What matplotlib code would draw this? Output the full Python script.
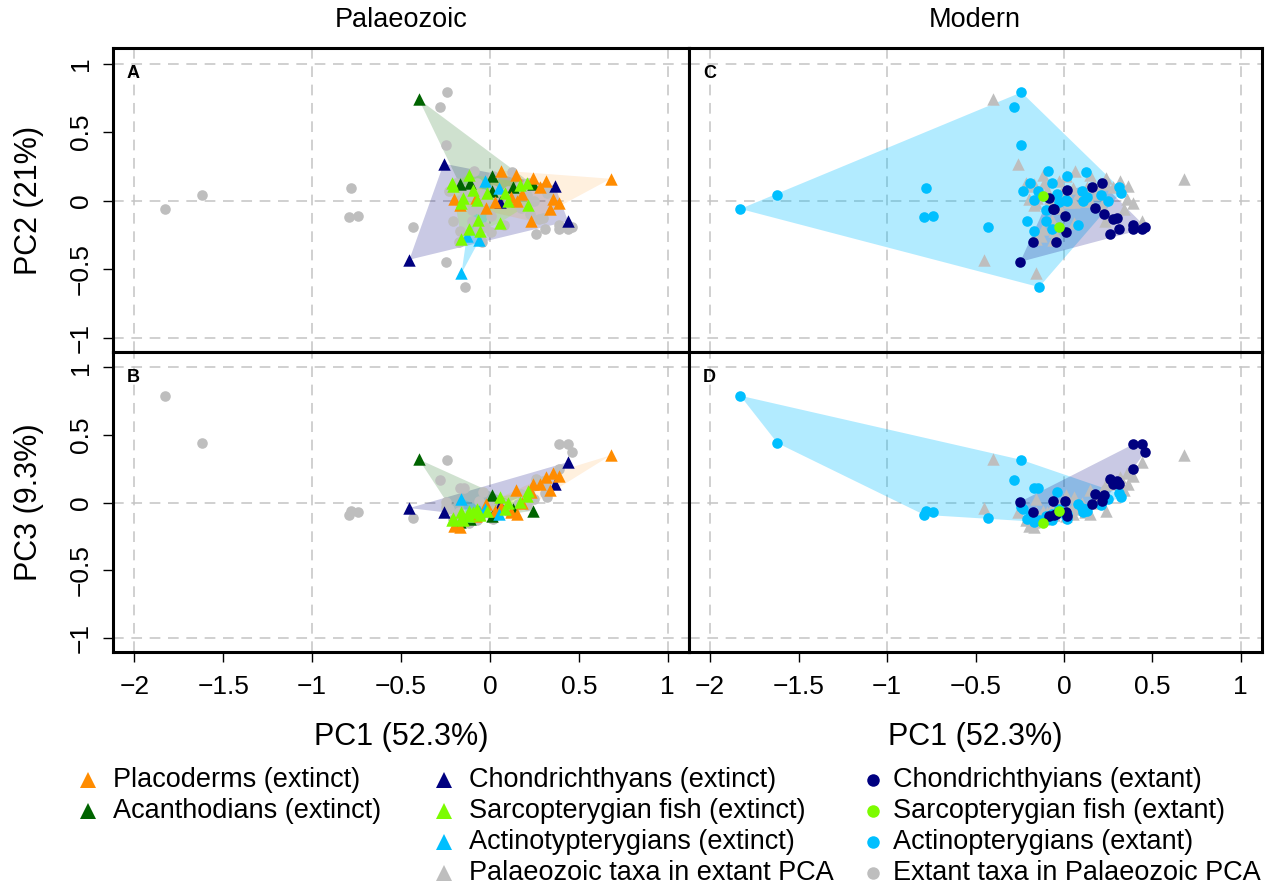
import numpy as np
import matplotlib
matplotlib.use("Agg")
import matplotlib.pyplot as plt
from matplotlib.lines import Line2D

plt.rcParams['font.family'] = ['Liberation Sans', 'DejaVu Sans']

# ---- Palaeozoic (extinct) taxa: PC1, PC2, PC3 ----
placoderms = [(0.68, 0.16, 0.35), (0.06, 0.22, -0.03), (0.145, 0.19, 0.09),
              (0.24, 0.165, 0.14), (0.315, 0.14, 0.19), (0.356, 0.01, 0.22),
              (0.39, -0.02, 0.20), (0.34, -0.06, 0.09), (0.234, -0.15, 0.076),
              (0.15, 0.0, -0.083), (0.18, 0.05, 0.0), (-0.02, -0.05, -0.01),
              (-0.08, 0.02, -0.10), (-0.20, 0.01, -0.17), (0.03, -0.01, -0.06),
              (0.12, 0.03, -0.07), (0.28, 0.10, 0.137), (-0.17, -0.03, -0.18)]
acanthodians = [(-0.40, 0.74, 0.32), (0.01, 0.18, 0.06), (-0.11, 0.13, -0.12),
                (-0.17, 0.12, -0.14), (0.13, 0.10, -0.05), (0.24, 0.12, -0.06),
                (0.01, 0.07, -0.10)]
chond_extinct = [(-0.453, -0.43, -0.04), (-0.26, 0.27, -0.07), (0.44, -0.15, 0.30),
                 (0.365, 0.11, 0.14), (0.056, -0.01, -0.02)]
sarco_extinct = [(-0.116, 0.19, -0.10), (-0.206, 0.11, -0.11), (-0.094, 0.08, -0.07),
                 (-0.15, 0.02, -0.13), (-0.075, 0.007, -0.05), (-0.16, -0.017, -0.07),
                 (-0.019, 0.056, -0.06), (0.084, 0.056, -0.05), (0.10, -0.005, 0.0),
                 (0.17, 0.116, 0.002), (0.206, 0.128, 0.05), (0.215, -0.03, 0.088),
                 (0.056, -0.16, 0.04), (-0.066, -0.14, -0.07), (-0.12, -0.21, -0.06),
                 (-0.056, -0.22, -0.09), (-0.16, -0.28, -0.12), (-0.215, 0.13, -0.13)]
actino_extinct = [(-0.16, -0.53, 0.03), (-0.03, 0.14, -0.05), (0.05, 0.09, -0.08),
                  (-0.13, -0.26, -0.10), (-0.06, -0.29, -0.06)]

# ---- Modern (extant) taxa: PC1, PC2, PC3 ----
chond_extant = [(-0.247, -0.446, 0.007), (-0.174, -0.30, -0.07), (-0.047, -0.30, -0.083),
                (0.009, -0.23, -0.07), (0.006, -0.11, 0.01), (-0.06, -0.06, 0.015),
                (0.02, 0.08, -0.10), (0.156, 0.097, -0.01), (0.215, 0.128, 0.01),
                (0.174, -0.053, 0.064), (0.225, -0.095, 0.057), (0.275, -0.133, 0.14),
                (0.262, -0.24, 0.174), (0.31, -0.21, 0.14), (0.39, -0.18, 0.43),
                (0.39, -0.21, 0.25), (0.44, -0.21, 0.43), (0.46, -0.19, 0.375),
                (-0.084, 0.02, -0.096), (-0.056, -0.06, -0.09), (0.30, -0.126, 0.16)]
sarco_extant = [(-0.118, 0.036, -0.15), (-0.03, -0.19, -0.06)]
actino_extant = [(-1.83, -0.06, 0.79), (-1.62, 0.04, 0.44), (-0.78, 0.09, -0.06),
                 (-0.79, -0.12, -0.09), (-0.74, -0.11, -0.07), (-0.43, -0.19, -0.115),
                 (-0.24, 0.79, 0.316), (-0.28, 0.68, 0.17), (-0.245, 0.405, -0.03),
                 (-0.14, -0.63, -0.13), (-0.23, 0.07, -0.05), (-0.19, 0.13, -0.10),
                 (-0.09, 0.22, -0.12), (-0.07, 0.13, -0.13), (0.02, 0.18, -0.08),
                 (0.125, 0.21, -0.05), (-0.145, 0.07, 0.108), (-0.17, 0.007, 0.108),
                 (-0.03, -0.01, -0.05), (0.01, 0.007, -0.10), (0.10, 0.068, -0.04),
                 (0.11, -0.005, -0.07), (0.13, 0.03, -0.06), (-0.10, -0.065, -0.12),
                 (-0.21, -0.15, -0.12), (-0.10, -0.15, -0.10), (-0.066, -0.21, -0.08),
                 (-0.17, -0.22, -0.14), (0.08, -0.175, -0.01), (0.31, 0.10, 0.07),
                 (0.32, 0.055, 0.04), (-0.04, 0.05, 0.081), (0.015, 0.0, -0.12),
                 (0.21, 0.04, -0.02), (0.25, 0.0, 0.03)]

ORANGE, DKGREEN, NAVY = '#FF8C00', '#006400', '#000080'
LGREEN, SKY, GREY = '#7CFC00', '#00BFFF', '#BEBEBE'
HULL_ALPHA = {ORANGE: 0.13, DKGREEN: 0.19, NAVY: 0.21, LGREEN: 0.2, SKY: 0.3}

# drawing order: later groups sit on top
extinct_groups = [(chond_extinct, NAVY), (acanthodians, DKGREEN), (placoderms, ORANGE),
                  (actino_extinct, SKY), (sarco_extinct, LGREEN)]
extant_groups = [(actino_extant, SKY), (chond_extant, NAVY), (sarco_extant, LGREEN)]

x_ticks = [-2, -1.5, -1, -0.5, 0, 0.5, 1]
x_ticklabels = ['\u22122', '\u22121.5', '\u22121', '\u22120.5', '0', '0.5', '1']
y_ticks = [-1, -0.5, 0, 0.5, 1]
y_ticklabels = ['\u22121', '\u22120.5', '0', '0.5', '1']

TRI_S, CIR_S = 80, 58


def convex_hull(pts):
    pts = sorted(set(map(tuple, pts)))
    if len(pts) < 3:
        return np.array(pts)

    def cross(o, a, b):
        return (a[0] - o[0]) * (b[1] - o[1]) - (a[1] - o[1]) * (b[0] - o[0])

    lower, upper = [], []
    for p in pts:
        while len(lower) >= 2 and cross(lower[-2], lower[-1], p) <= 0:
            lower.pop()
        lower.append(p)
    for p in reversed(pts):
        while len(upper) >= 2 and cross(upper[-2], upper[-1], p) <= 0:
            upper.pop()
        upper.append(p)
    return np.array(lower[:-1] + upper[:-1])


def draw_panel(ax, main_groups, main_marker, other_groups, other_marker, pc, letter):
    ax.set_xlim(-2.12, 1.12)
    ax.set_ylim(-1.103, 1.113)
    for gx in [-2, -1, 0, 1]:
        ax.axvline(gx, color='#C4C4C4', lw=1.1, ls=(0, (7, 5)), zorder=0)
    for gy in [-1, 0, 1]:
        ax.axhline(gy, color='#C4C4C4', lw=1.1, ls=(0, (7, 5)), zorder=0)

    # convex hulls of the main groups
    for data, col in main_groups:
        arr = np.array(data)
        h = convex_hull(arr[:, [0, pc]])
        if len(h) >= 3:
            ax.fill(h[:, 0], h[:, 1], color=col, alpha=HULL_ALPHA[col], lw=0, zorder=1)

    # projected taxa from the other PCA in grey
    for data, _ in other_groups:
        arr = np.array(data)
        ax.scatter(arr[:, 0], arr[:, pc], marker=other_marker, color=GREY,
                   s=TRI_S if other_marker == '^' else CIR_S, lw=0, zorder=2)

    for data, col in main_groups:
        arr = np.array(data)
        ax.scatter(arr[:, 0], arr[:, pc], marker=main_marker, color=col,
                   s=TRI_S if main_marker == '^' else CIR_S, lw=0, zorder=3)

    ax.text(0.024, 0.945, letter, transform=ax.transAxes, fontsize=13,
            fontweight='bold', va='top', ha='left')
    for sp in ax.spines.values():
        sp.set_linewidth(2.2)
    ax.set_xticks(x_ticks)
    ax.set_xticklabels(x_ticklabels)
    ax.set_yticks(y_ticks)
    ax.set_yticklabels(y_ticklabels)
    ax.tick_params(direction='out', length=7.5, width=1, labelsize=19, pad=9)


W, H = 1271, 886
fig = plt.figure(figsize=(W / 100, H / 100), dpi=100)


def fig_box(x0, y0, x1, y1):
    return [x0 / W, 1 - y1 / H, (x1 - x0) / W, (y1 - y0) / H]


axA = fig.add_axes(fig_box(113, 48, 689, 352))
axB = fig.add_axes(fig_box(113, 352, 689, 652))
axC = fig.add_axes(fig_box(689, 48, 1262, 352))
axD = fig.add_axes(fig_box(689, 352, 1262, 652))

draw_panel(axA, extinct_groups, '^', extant_groups, 'o', 1, 'A')
draw_panel(axB, extinct_groups, '^', extant_groups, 'o', 2, 'B')
draw_panel(axC, extant_groups, 'o', extinct_groups, '^', 1, 'C')
draw_panel(axD, extant_groups, 'o', extinct_groups, '^', 2, 'D')

for ax in (axA, axC):
    ax.tick_params(axis='x', bottom=False, labelbottom=False)
for ax in (axC, axD):
    ax.tick_params(axis='y', left=False, labelleft=False)
for ax in (axA, axB):
    ax.tick_params(axis='y', labelrotation=90, pad=7)
    for lab in ax.get_yticklabels():
        lab.set_va('center')

# titles and axis labels
fig.text(401 / W, 1 - 20 / H, 'Palaeozoic', ha='center', va='center', fontsize=19.5)
fig.text(975 / W, 1 - 20 / H, 'Modern', ha='center', va='center', fontsize=19.5)
fig.text(29 / W, 1 - 200 / H, 'PC2 (21%)', rotation=90, ha='center', va='center', fontsize=22)
fig.text(29 / W, 1 - 502 / H, 'PC3 (9.3%)', rotation=90, ha='center', va='center', fontsize=22)
fig.text(401 / W, 1 - 737 / H, 'PC1 (52.3%)', ha='center', va='center', fontsize=22)
fig.text(975 / W, 1 - 737 / H, 'PC1 (52.3%)', ha='center', va='center', fontsize=22)

# legend, three columns
legend_cols = [
    (88, 113, [('Placoderms (extinct)', ORANGE, '^'),
               ('Acanthodians (extinct)', DKGREEN, '^')]),
    (444, 469, [('Chondrichthyans (extinct)', NAVY, '^'),
                ('Sarcopterygian fish (extinct)', LGREEN, '^'),
                ('Actinotypterygians (extinct)', SKY, '^'),
                ('Palaeozoic taxa in extant PCA', GREY, '^')]),
    (873, 893, [('Chondrichthyians (extant)', NAVY, 'o'),
                ('Sarcopterygian fish (extant)', LGREEN, 'o'),
                ('Actinopterygians (extant)', SKY, 'o'),
                ('Extant taxa in Palaeozoic PCA', GREY, 'o')]),
]
row_y = [780, 811, 842, 873]
for mx, tx, entries in legend_cols:
    for (label, col, mk), ry in zip(entries, row_y):
        fig.add_artist(Line2D([mx / W], [1 - ry / H], marker=mk, color=col, ls='none',
                              markersize=11 if mk == '^' else 9, markeredgewidth=0,
                              transform=fig.transFigure))
        fig.text(tx / W, 1 - ry / H, label, ha='left', va='center', fontsize=19.5)

fig.savefig('out.png', dpi=100)
